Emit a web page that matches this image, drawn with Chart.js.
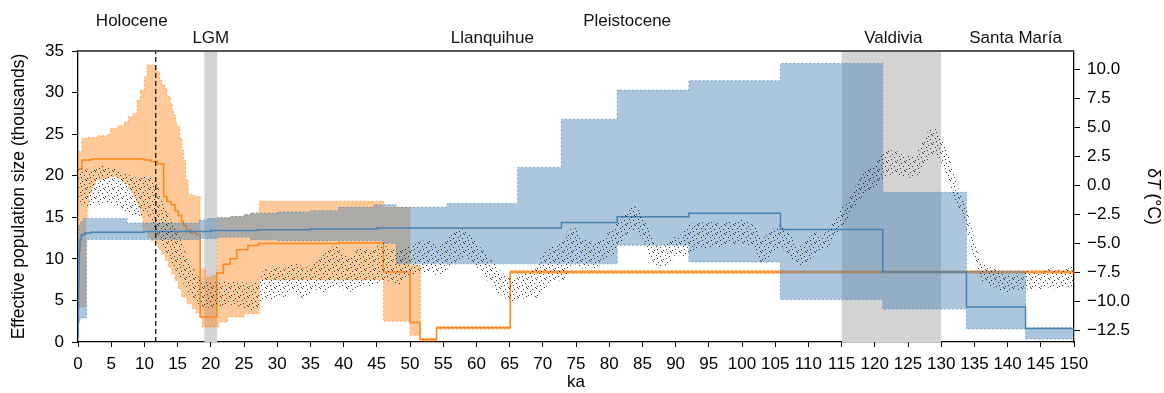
<!DOCTYPE html>
<html>
<head>
<meta charset="utf-8">
<script src="https://cdn.jsdelivr.net/npm/chart.js@4.4.1/dist/chart.umd.min.js"></script>
<style>
  html, body { margin: 0; padding: 0; background: #fff; }
  canvas { display: block; }
</style>
</head>
<body>
<canvas id="grafico" width="1164" height="393"></canvas>
<script>
// ticks
const xTicks = [0,5,10,15,20,25,30,35,40,45,50,55,60,65,70,75,80,85,90,95,100,105,110,115,120,125,130,135,140,145,150];
const neTicks = [0,5,10,15,20,25,30,35];
const dtTicks = [-12.5,-10,-7.5,-5,-2.5,0,2.5,5,7.5,10];

// periodos
const periodNames = ["Holocene","LGM","Llanquihue","Pleistocene","Valdivia","Santa María"];
const periodKa    = [8.1, 20, 62.4, 82.7, 122.8, 141.2];
const periodRow   = [0, 1, 1, 0, 1, 1];
const lgmBand = [19, 21];
const valdiviaBand = [115, 130];
const holoceneLimit = 11.7;

// Ne poblacion 1 (azul), escalones: inicio ka -> valor (miles)
const bKa  = [0,0.05,0.1,0.15,0.2,0.3,0.5,1,2,10,20,27,35,45,72.8,81.2,92,105.8,121.2,133.8,142.7,150];
const bVal = [0.6,4,7,9.5,11,12.3,12.9,13.1,13.2,13.3,13.4,13.5,13.6,13.7,14.38,15.05,15.5,13.53,8.43,4.21,1.61,1.61];
const bHiKa = [0,0.15,0.4,0.8,7.4,18.2,19.5,21,23,25,26,30,35,39.2,44.6,47.9,55.6,66.2,72.8,81.2,92,105.8,121.2,133.8,142.7,150];
const bHi   = [13.5,14.0,14.5,14.86,14.3,14.65,14.85,14.95,15.1,15.3,15.5,15.65,15.8,16.2,16.5,16.2,16.66,21.0,26.8,30.3,31.43,33.5,18.0,8.5,1.7,1.7];
const bLoKa = [0,0.3,1.3,18.4,21,26,30,46,47.9,81.2,92,105.8,121.2,133.8,142.7,150];
const bLo   = [2.4,2.9,12.33,12.45,12.6,12.3,12.2,11.85,9.4,11.64,9.63,5.1,3.97,1.57,0.36,0.36];

// Ne poblacion 2 (naranja)
const oKa  = [0,0.6,2,10,11,12,12.9,13.4,14,14.6,15.1,15.6,15.9,16.3,17,17.8,18.4,20.9,21.9,22.9,23.9,25.6,27.2,39.3,46,50,51.5,54,65.1,150];
const oVal = [20.8,21.9,22.0,21.9,21.7,21.4,17.5,16.9,16.5,15.8,15.2,14.5,14.0,13.5,13.1,12.9,3.0,8.3,9.35,10.0,11.1,11.6,11.85,11.95,8.43,2.35,0.3,1.7,8.43,8.43];
const oHiKa = [0,0.6,1.5,3,4.4,4.9,6,7,7.6,8.3,8.9,9.4,10,10.4,11.6,11.9,12.3,12.6,13.1,13.4,13.9,14.2,14.4,14.7,14.9,15.3,15.65,15.9,16.2,16.6,17.5,18.4,19.2,20.2,20.9,21,23,25,26,27.3,46,47.9,50,51.6,54,65.1,150];
const oHi   = [22.9,24.5,24.6,24.8,25.0,25.7,26.0,26.5,27.1,27.5,29.1,30.3,31.9,33.3,33.1,32.5,31.5,30.9,30.5,29.5,28.7,27.8,27.3,26.4,25.9,24.5,23.1,21.9,19.5,17.7,17.5,8.8,7.8,8.0,8.8,14.95,15.1,15.3,15.5,16.94,16.2,16.2,9.2,0.45,1.85,8.6,8.6];
const oLoKa = [0,1.2,1.4,1.6,2.1,2.6,3.6,4.6,6.1,6.6,7.1,7.6,8,8.4,8.8,9.1,9.4,9.6,9.8,10.5,11,11.6,12.1,12.6,13.1,13.6,14.1,14.6,15.1,15.6,16.4,17.2,17.8,18.4,18.7,21.2,22.5,25,27.3,46,50,51.6,54,65.1,150];
const oLo   = [4.2,14.9,16.5,17.9,18.8,19.5,19.7,19.9,19.7,19.3,19.0,18.5,18.0,17.4,16.8,16.2,15.6,15.0,13.5,12.6,12.2,11.85,11.2,10.6,9.8,9.0,8.2,7.4,6.4,5.4,4.6,4.0,3.5,3.0,1.8,2.4,3.0,3.4,7.5,2.5,0.8,0.1,1.55,8.25,8.25];

// dT (°C), cada 1 ka desde 0 hasta 150: borde bajo y borde alto de la nube de puntos
const tLo = [-1.5,-1.8,-1.9,-1.7,-1.6,-1.6,-1.9,-2.3,-2.6,-2.8,-2.4,-2.8,-4.5,-5.5,-6.8,-7.5,-8.6,-9.6,-10.4,-10.5,
  -10.6,-10.5,-10.4,-10.3,-10.4,-10.6,-11.0,-10.6,-9.8,-9.9,-9.5,-9.7,-9.2,-9.4,-9.8,-9.3,-9.0,-9.2,-8.8,-8.6,
  -9.0,-9.4,-8.8,-8.6,-8.8,-8.6,-8.4,-8.2,-8.6,-8.4,-7.8,-7.6,-7.6,-7.4,-7.8,-7.6,-7.0,-6.6,-6.2,-6.6,
  -7.0,-7.8,-8.4,-9.2,-9.6,-10.0,-10.0,-9.8,-9.6,-9.8,-9.0,-8.6,-8.0,-8.4,-7.2,-6.8,-7.2,-7.0,-7.2,-6.8,
  -6.2,-5.8,-4.8,-4.0,-3.8,-4.6,-6.0,-7.0,-7.2,-6.8,-6.0,-6.2,-5.8,-5.6,-5.4,-5.6,-5.2,-5.4,-5.0,-5.2,
  -5.0,-5.2,-5.6,-6.8,-6.6,-5.6,-5.4,-6.0,-6.8,-7.0,-6.6,-6.0,-5.6,-5.4,-4.6,-3.6,-2.8,-2.0,-1.0,-0.6,
  -0.2,0.4,0.8,0.9,0.8,0.6,0.6,1.2,2.2,2.8,2.0,0.4,-1.2,-2.6,-4.2,-6.6,-8.2,-8.6,-8.8,-9.2,
  -9.2,-9.0,-9.2,-9.0,-9.0,-9.0,-8.8,-9.0,-8.8,-8.8,-8.6];
const tHi = [1.5,1.4,1.3,1.6,1.7,1.5,1.3,1.0,0.8,0.6,0.8,0.6,0.0,-1.8,-3.0,-4.0,-5.6,-6.8,-7.8,-8.2,
  -8.3,-8.4,-8.3,-8.2,-8.4,-8.4,-8.6,-8.2,-7.2,-7.4,-7.0,-7.3,-6.8,-6.6,-7.2,-6.9,-6.4,-5.8,-5.4,-5.0,
  -6.0,-6.2,-5.6,-5.4,-5.8,-5.2,-5.0,-5.4,-5.6,-5.4,-5.2,-4.9,-4.8,-4.6,-5.2,-4.8,-4.4,-4.0,-3.8,-4.2,
  -5.0,-5.6,-6.2,-7.0,-7.6,-8.0,-8.0,-7.6,-7.4,-6.8,-6.0,-5.4,-5.0,-4.6,-3.8,-3.6,-4.6,-4.8,-5.0,-4.6,
  -4.0,-3.4,-2.8,-2.0,-1.8,-2.6,-4.0,-5.2,-5.2,-4.8,-4.4,-4.2,-3.4,-3.2,-3.2,-3.2,-3.2,-3.4,-3.0,-3.2,
  -2.8,-3.2,-3.6,-4.6,-4.2,-3.6,-3.4,-4.0,-5.0,-5.2,-4.6,-4.0,-4.4,-3.8,-3.0,-2.0,-1.2,-0.2,0.8,1.4,
  1.8,2.6,3.0,3.0,2.8,2.5,2.6,3.6,4.6,5.0,4.2,2.8,0.8,-1.0,-2.4,-4.6,-6.6,-7.0,-7.2,-7.6,
  -7.8,-7.8,-7.8,-7.4,-7.6,-7.4,-7.0,-7.4,-7.2,-7.2,-7.0];
const tKa = tLo.map((v, i) => i);

const fuente = "'Liberation Sans', Arial, Helvetica, sans-serif";
const azul = "rgb(70,130,180)";
const naranja = "rgb(255,135,25)";

function puntos(kas, vals) {
  return kas.map((k, i) => ({ x: k, y: vals[i] }));
}

// textura de puntitos para la nube de dT
function texturaPuntos() {
  const c = document.createElement("canvas");
  c.width = 9;
  c.height = 9;
  const g = c.getContext("2d");
  g.fillStyle = "rgba(0,0,0,0.75)";
  [[1, 1], [5, 0], [3, 4], [8, 3], [0, 6], [6, 7], [4, 8]].forEach(([px, py]) => g.fillRect(px, py, 1, 1));
  return g.createPattern(c, "repeat");
}

function fijarTicks(lista) {
  return (scale) => { scale.ticks = lista.map((v) => ({ value: v })); };
}

const etiquetas = {
  id: "etiquetas",
  afterDatasetsDraw(chart) {
    const { ctx, chartArea, scales } = chart;
    ctx.save();
    ctx.strokeStyle = "#555";
    ctx.lineWidth = 2;
    ctx.beginPath();
    ctx.moveTo(chartArea.left, chartArea.top);
    ctx.lineTo(chartArea.right, chartArea.top);
    ctx.stroke();
    ctx.fillStyle = "#111";
    ctx.font = "17px " + fuente;
    ctx.textAlign = "center";
    ctx.textBaseline = "middle";
    periodNames.forEach((nombre, i) => {
      const x = scales.x.getPixelForValue(periodKa[i]);
      const y = periodRow[i] === 0 ? 21 : 38;
      ctx.fillText(nombre, x, y);
    });
    ctx.restore();
  },
  afterDraw(chart) {
    // titulo derecho con la T en cursiva
    const { ctx, chartArea } = chart;
    const partes = [["δ", "17.5px "], ["T", "italic 17.5px "], [" (°C)", "17.5px "]];
    ctx.save();
    ctx.fillStyle = "#000";
    ctx.textBaseline = "middle";
    ctx.textAlign = "left";
    let total = 0;
    partes.forEach(([t, f]) => { ctx.font = f + fuente; total += ctx.measureText(t).width; });
    ctx.translate(chart.width - 11, (chartArea.top + chartArea.bottom) / 2);
    ctx.rotate(Math.PI / 2);
    let x = -total / 2;
    partes.forEach(([t, f]) => {
      ctx.font = f + fuente;
      ctx.fillText(t, x, 0);
      x += ctx.measureText(t).width;
    });
    ctx.restore();
  }
};

function banda(desde, hasta) {
  return {
    data: [{ x: desde, y: 35 }, { x: hasta, y: 35 }],
    yAxisID: "y",
    fill: "origin",
    backgroundColor: "#d3d3d3",
    borderWidth: 0,
    pointRadius: 0,
    order: 20
  };
}

const contexto = document.getElementById("grafico");

new Chart(contexto, {
  type: "line",
  data: {
    datasets: [
      banda(lgmBand[0], lgmBand[1]),
      banda(valdiviaBand[0], valdiviaBand[1]),
      {
        data: puntos(oLoKa, oLo),
        yAxisID: "y",
        stepped: true,
        fill: false,
        borderColor: "rgba(255,127,14,0.55)",
        borderWidth: 1,
        borderDash: [2, 2],
        pointRadius: 0,
        order: 12
      },
      {
        data: puntos(oHiKa, oHi),
        yAxisID: "y",
        stepped: true,
        fill: "-1",
        backgroundColor: "rgba(255,127,14,0.42)",
        borderColor: "rgba(255,127,14,0.55)",
        borderWidth: 1,
        borderDash: [2, 2],
        pointRadius: 0,
        order: 12
      },
      {
        data: puntos(oKa, oVal),
        yAxisID: "y",
        stepped: true,
        fill: false,
        borderColor: naranja,
        borderWidth: 1.5,
        pointRadius: 0,
        order: 11
      },
      {
        data: puntos(bLoKa, bLo),
        yAxisID: "y",
        stepped: true,
        fill: false,
        borderColor: "rgba(70,130,180,0.6)",
        borderWidth: 1,
        borderDash: [2, 2],
        pointRadius: 0,
        order: 10
      },
      {
        data: puntos(bHiKa, bHi),
        yAxisID: "y",
        stepped: true,
        fill: "-1",
        backgroundColor: "rgba(70,130,180,0.45)",
        borderColor: "rgba(70,130,180,0.6)",
        borderWidth: 1,
        borderDash: [2, 2],
        pointRadius: 0,
        order: 10
      },
      {
        data: puntos(bKa, bVal),
        yAxisID: "y",
        stepped: true,
        fill: false,
        borderColor: azul,
        borderWidth: 1.5,
        pointRadius: 0,
        order: 9
      },
      {
        data: puntos(tKa, tLo),
        yAxisID: "y2",
        borderWidth: 0,
        pointRadius: 0,
        fill: false,
        order: 8
      },
      {
        data: puntos(tKa, tHi),
        yAxisID: "y2",
        borderWidth: 0,
        pointRadius: 0,
        fill: "-1",
        backgroundColor: texturaPuntos(),
        order: 8
      },
      {
        data: [{ x: holoceneLimit, y: 0 }, { x: holoceneLimit, y: 35 }],
        yAxisID: "y",
        borderColor: "#111",
        borderWidth: 1.3,
        borderDash: [5, 3],
        pointRadius: 0,
        fill: false,
        order: 1
      }
    ]
  },
  options: {
    responsive: false,
    animation: false,
    devicePixelRatio: 1,
    layout: { padding: { top: 51, left: 0, right: 0, bottom: 0 } },
    plugins: {
      legend: { display: false },
      tooltip: { enabled: false }
    },
    scales: {
      x: {
        type: "linear",
        position: "bottom",
        min: 0,
        max: 150,
        afterBuildTicks: fijarTicks(xTicks),
        afterFit: (scale) => { scale.height = 51; },
        ticks: { color: "#000", font: { family: fuente, size: 17 }, padding: 7, maxRotation: 0, autoSkip: false },
        grid: { drawOnChartArea: false, color: "#000", tickLength: 5 },
        border: { color: "#000", width: 1.3 },
        title: { display: true, text: "ka", color: "#000", font: { family: fuente, size: 17 }, padding: { top: 0, bottom: 0 } }
      },
      y: {
        type: "linear",
        position: "left",
        min: 0,
        max: 35,
        afterBuildTicks: fijarTicks(neTicks),
        afterFit: (scale) => { scale.width = 78; },
        ticks: { color: "#000", font: { family: fuente, size: 17 }, padding: 8 },
        grid: { drawOnChartArea: false, color: "#000", tickLength: 6 },
        border: { color: "#000", width: 1.3 },
        title: { display: true, text: "Effective population size (thousands)", color: "#000", font: { family: fuente, size: 17.5 }, padding: { top: 9, bottom: 0 } }
      },
      y2: {
        type: "linear",
        position: "right",
        min: -13.52,
        max: 11.56,
        afterBuildTicks: fijarTicks(dtTicks),
        afterFit: (scale) => { scale.width = 90; },
        ticks: {
          color: "#000",
          font: { family: fuente, size: 17 },
          padding: 7,
          callback: (v) => (v < 0 ? "\u2212" : "") + Math.abs(v).toFixed(1)
        },
        grid: { drawOnChartArea: false, color: "#000", tickLength: 6 },
        border: { color: "#000", width: 1.3 },
        title: { display: false }
      }
    }
  },
  plugins: [etiquetas]
});
</script>
</body>
</html>
